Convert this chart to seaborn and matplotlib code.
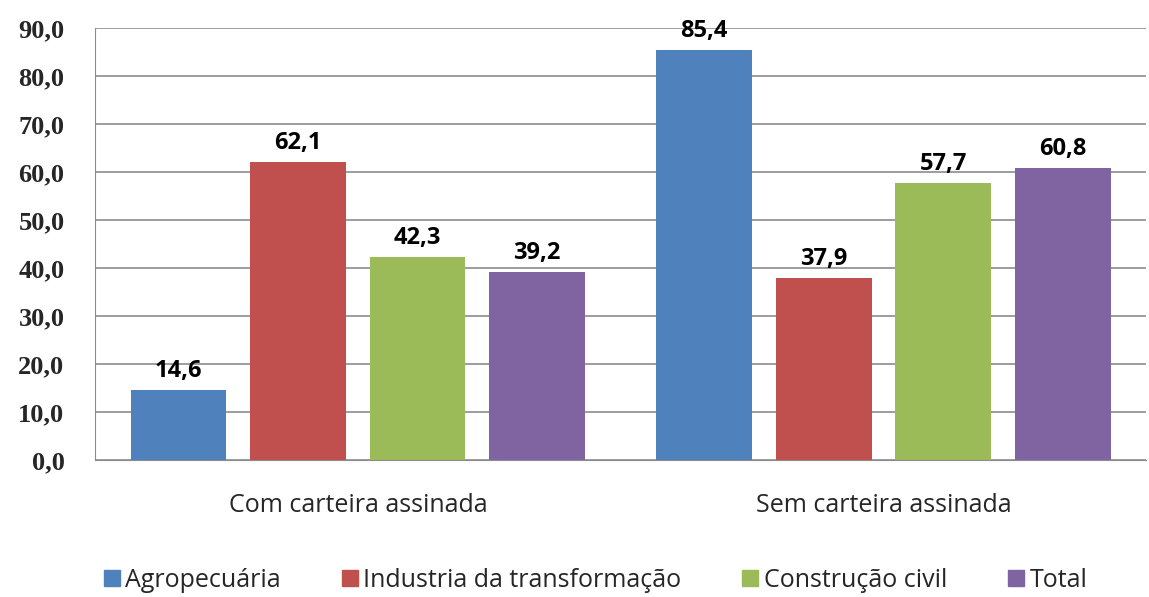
import matplotlib
matplotlib.use("Agg")
import matplotlib.pyplot as plt
import pandas as pd
import seaborn as sns
from matplotlib.ticker import FuncFormatter
from matplotlib.lines import Line2D

# Data
categories = ["Com carteira assinada", "Sem carteira assinada"]
series = ["Agropecuária", "Industria da transformação", "Construção civil", "Total"]
agropecuaria = [14.6, 85.4]
industria = [62.1, 37.9]
construcao = [42.3, 57.7]
total = [39.2, 60.8]
colors = ["#4F81BD", "#C0504D", "#9BBB59", "#8064A2"]

df = pd.DataFrame({
    "categoria": categories * 4,
    "setor": [s for s in series for _ in categories],
    "valor": agropecuaria + industria + construcao + total,
})

sns.set_style("white")
plt.rcParams["font.family"] = ["Open Sans", "DejaVu Sans"]

fig = plt.figure(figsize=(11.49, 5.97), dpi=100)
ax = fig.add_axes([0.0827, 0.2295, 0.915, 0.7235])

sns.barplot(data=df, x="categoria", y="valor", hue="setor", hue_order=series,
            palette=colors, width=0.91, gap=0.2, saturation=1, ax=ax,
            legend=False, linewidth=0)

# value labels
for cont in ax.containers:
    ax.bar_label(cont, labels=[f"{v:.1f}".replace(".", ",") for v in cont.datavalues],
                 padding=5, fontsize=17, fontweight="bold", color="black")

ax.set_ylim(0, 90)
ax.set_yticks(range(0, 91, 10))
ax.yaxis.set_major_formatter(FuncFormatter(lambda v, p: f"{v:.1f}".replace(".", ",")))
ax.grid(axis="y", color="#8c8c8c", linewidth=1.2)
ax.set_axisbelow(True)
for s in ["top", "right"]:
    ax.spines[s].set_visible(False)
ax.spines["left"].set_color("#8c8c8c")
ax.spines["bottom"].set_color("#8c8c8c")
ax.set_xlabel("")
ax.set_ylabel("")

for lbl in ax.get_yticklabels():
    lbl.set_fontfamily("Liberation Serif")
    lbl.set_fontweight("bold")
    lbl.set_fontsize(19)
ax.tick_params(axis="y", pad=22, length=0)
ax.tick_params(axis="x", pad=24, length=0, labelsize=18)

handles = [Line2D([0], [0], marker="s", linestyle="", markersize=12,
                  markerfacecolor=c, markeredgecolor=c) for c in colors]
fig.legend(handles, series, loc="center", bbox_to_anchor=(0.517, 0.028), ncol=4,
           frameon=False, fontsize=18, handletextpad=0.1, columnspacing=2.3,
           handlelength=0.9)

fig.savefig("out.png", dpi=100)
